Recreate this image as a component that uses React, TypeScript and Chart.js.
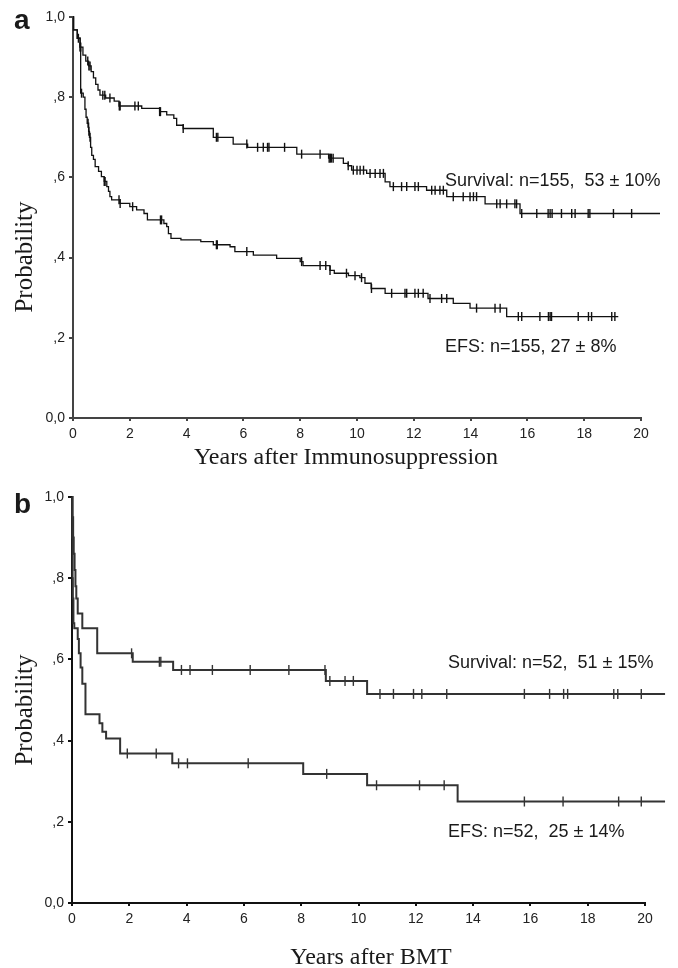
import React, { useEffect, useRef } from "react";
import { Chart, registerables } from "chart.js";

Chart.register(...registerables);

// ---------- shared axis data ----------
const xTickValues = [0, 2, 4, 6, 8, 10, 12, 14, 16, 18, 20];
const yTickValues = [0, 0.2, 0.4, 0.6, 0.8, 1.0];
const yTickLabels = ["0,0", ",2", ",4", ",6", ",8", "1,0"];

// ---------- panel a: after immunosuppression ----------
const survATimes = [0, 0.02, 0.15, 0.25, 0.35, 0.45, 0.55, 0.64, 0.72, 0.8, 0.88, 0.95, 1.15, 1.45, 1.62, 2.42, 3.05, 3.3, 3.55, 3.65, 3.88, 4.94, 5.64, 6.15, 7.88, 9.0, 9.52, 9.69, 9.81, 10.34, 10.99, 11.16, 12.45, 13.16, 14.51, 15.74, 20.67];
const survAValues = [1.0, 0.968, 0.947, 0.925, 0.905, 0.89, 0.878, 0.864, 0.848, 0.832, 0.818, 0.805, 0.798, 0.79, 0.778, 0.772, 0.764, 0.756, 0.747, 0.73, 0.722, 0.7, 0.683, 0.675, 0.658, 0.648, 0.635, 0.629, 0.618, 0.61, 0.589, 0.577, 0.568, 0.552, 0.534, 0.51, 0.51];
const survACensor = [0.19, 0.25, 0.26, 0.27, 0.52, 0.56, 0.6, 1.05, 1.12, 1.3, 1.63, 1.66, 2.18, 2.3, 3.05, 3.08, 3.88, 5.05, 5.1, 6.12, 6.5, 6.7, 6.85, 6.9, 7.45, 8.05, 8.7, 9.02, 9.06, 9.1, 9.16, 9.69, 9.87, 10.0, 10.11, 10.23, 10.46, 10.64, 10.81, 10.93, 11.28, 11.57, 11.75, 12.04, 12.16, 12.63, 12.75, 12.92, 13.04, 13.39, 13.74, 13.98, 14.1, 14.21, 14.92, 15.04, 15.27, 15.56, 15.62, 15.8, 16.33, 16.73, 16.8, 16.87, 17.2, 17.56, 17.68, 18.14, 18.2, 19.03, 19.67];

const efsATimes = [0, 0.02, 0.15, 0.25, 0.27, 0.36, 0.42, 0.46, 0.5, 0.55, 0.58, 0.62, 0.66, 0.72, 0.78, 0.9, 1.0, 1.1, 1.19, 1.25, 1.3, 1.36, 1.65, 2.0, 2.24, 2.5, 2.62, 3.2, 3.3, 3.36, 3.45, 3.8, 4.5, 4.94, 5.53, 5.7, 6.35, 7.17, 8.0, 8.1, 9.05, 9.2, 9.7, 10.1, 10.28, 10.5, 10.99, 12.5, 13.39, 13.98, 15.27, 19.2];
const efsAValues = [1.0, 0.968, 0.947, 0.925, 0.81, 0.8, 0.77, 0.75, 0.735, 0.715, 0.7, 0.675, 0.655, 0.645, 0.627, 0.615, 0.602, 0.59, 0.577, 0.565, 0.552, 0.544, 0.535, 0.527, 0.519, 0.51, 0.494, 0.485, 0.477, 0.46, 0.448, 0.444, 0.44, 0.432, 0.427, 0.415, 0.406, 0.398, 0.39, 0.38, 0.368, 0.361, 0.355, 0.35, 0.336, 0.323, 0.311, 0.298, 0.286, 0.274, 0.253, 0.253];
const efsACensor = [0.3, 0.53, 0.56, 0.6, 1.1, 1.13, 1.62, 1.66, 2.1, 3.08, 3.12, 5.05, 5.08, 6.12, 8.05, 8.7, 8.9, 9.05, 9.63, 9.93, 10.16, 10.51, 11.22, 11.69, 11.75, 12.04, 12.16, 12.33, 12.57, 12.98, 13.16, 14.21, 14.86, 15.04, 15.68, 15.8, 16.44, 16.74, 16.8, 16.85, 17.79, 18.15, 18.26, 18.97, 19.08];

// ---------- panel b: after BMT ----------
const survBTimes = [0, 0.02, 0.04, 0.06, 0.09, 0.12, 0.15, 0.2, 0.36, 0.88, 2.12, 3.53, 8.86, 10.3, 20.7];
const survBValues = [1.0, 0.95, 0.9, 0.86, 0.82, 0.78, 0.75, 0.713, 0.677, 0.615, 0.594, 0.574, 0.547, 0.515, 0.515];
const survBCensor = [2.08, 3.05, 3.1, 3.82, 4.12, 4.9, 6.22, 7.57, 8.83, 9.0, 9.53, 9.82, 10.75, 11.22, 11.92, 12.21, 13.08, 15.79, 16.67, 17.16, 17.3, 18.91, 19.05, 19.87];

const efsBTimes = [0, 0.01, 0.02, 0.03, 0.05, 0.08, 0.2, 0.24, 0.3, 0.36, 0.47, 0.96, 1.06, 1.19, 1.68, 3.5, 8.07, 10.3, 13.46, 20.7];
const efsBValues = [1.0, 0.9, 0.8, 0.75, 0.689, 0.677, 0.65, 0.615, 0.58, 0.54, 0.465, 0.443, 0.422, 0.405, 0.368, 0.344, 0.318, 0.29, 0.25, 0.25];
const efsBCensor = [1.93, 2.94, 3.72, 4.03, 6.15, 8.89, 10.63, 12.13, 12.99, 15.79, 17.14, 19.08, 19.87];

// ---------- texts ----------
const panelALetter = "a";
const panelBLetter = "b";
const yTitle = "Probability";
const xTitleA = "Years after Immunosuppression";
const xTitleB = "Years after BMT";
const survALabel = "Survival: n=155,  53 \u00B1 10%";
const efsALabel = "EFS: n=155, 27 \u00B1 8%";
const survBLabel = "Survival: n=52,  51 \u00B1 15%";
const efsBLabel = "EFS: n=52,  25 \u00B1 14%";

const SANS = '"Liberation Sans", Arial, Helvetica, sans-serif';
const SERIF = '"Liberation Serif", "Times New Roman", Times, serif';

function stepPoints(times: number[], values: number[]) {
  return times.map((t, i) => ({ x: t, y: values[i] }));
}
function censorPoints(times: number[], values: number[], censor: number[]) {
  return censor.map((c) => {
    let v = values[0];
    for (let i = 0; i < times.length; i++) {
      if (times[i] <= c) v = values[i];
    }
    return { x: c, y: v };
  });
}

type TextItem = {
  text: string;
  x: number;
  y: number;
  font: string;
  align?: CanvasTextAlign;
  rotate?: boolean;
};

function makeConfig(opts: {
  surv: { x: number; y: number }[];
  survC: { x: number; y: number }[];
  efs: { x: number; y: number }[];
  efsC: { x: number; y: number }[];
  lineColor: string;
  lineWidth: number;
  axisColor: string;
  yWidth: number;
  xHeight: number;
  padTop: number;
  padRight: number;
  markRadius: number;
  texts: TextItem[];
}): any {
  const textPlugin = {
    id: "panelTexts",
    afterDraw(chart: any) {
      const ctx = chart.ctx;
      ctx.save();
      ctx.fillStyle = "#1a1a1a";
      ctx.textBaseline = "alphabetic";
      for (const t of opts.texts) {
        ctx.font = t.font;
        if (t.rotate) {
          ctx.save();
          ctx.translate(t.x, t.y);
          ctx.rotate(-Math.PI / 2);
          ctx.textAlign = "center";
          ctx.textBaseline = "middle";
          ctx.fillText(t.text, 0, 0);
          ctx.restore();
        } else {
          ctx.textAlign = t.align || "left";
          ctx.fillText(t.text, t.x, t.y);
        }
      }
      ctx.restore();
    },
  };

  const lineDs = (data: any) => ({
    type: "line",
    data,
    stepped: true,
    borderColor: opts.lineColor,
    borderWidth: opts.lineWidth,
    pointRadius: 0,
    fill: false,
    clip: false,
  });
  const markDs = (data: any) => ({
    type: "scatter",
    data,
    showLine: false,
    pointStyle: "line",
    pointRotation: 90,
    pointRadius: opts.markRadius,
    pointBorderWidth: 1.4,
    pointBorderColor: opts.lineColor,
    pointBackgroundColor: opts.lineColor,
    clip: false,
  });

  return {
    type: "line",
    data: {
      datasets: [lineDs(opts.surv), lineDs(opts.efs), markDs(opts.survC), markDs(opts.efsC)],
    },
    options: {
      responsive: false,
      maintainAspectRatio: false,
      animation: false,
      devicePixelRatio: 1,
      events: [],
      layout: { padding: { top: opts.padTop, right: opts.padRight, left: 0, bottom: 0 } },
      plugins: { legend: { display: false }, tooltip: { enabled: false }, title: { display: false } },
      scales: {
        x: {
          type: "linear",
          min: 0,
          max: 20,
          afterFit: (s: any) => {
            s.height = opts.xHeight;
          },
          afterBuildTicks: (s: any) => {
            s.ticks = xTickValues.map((v) => ({ value: v }));
          },
          ticks: {
            autoSkip: false,
            maxRotation: 0,
            padding: 5,
            color: "#222",
            font: { family: SANS, size: 14 },
            callback: (v: any) => String(v),
          },
          grid: {
            display: true,
            drawOnChartArea: false,
            drawTicks: true,
            tickLength: 3,
            color: opts.axisColor,
            lineWidth: 2,
          },
          border: { display: true, color: opts.axisColor, width: 2 },
        },
        y: {
          type: "linear",
          min: 0,
          max: 1,
          afterFit: (s: any) => {
            s.width = opts.yWidth;
          },
          afterBuildTicks: (s: any) => {
            s.ticks = yTickValues.map((v) => ({ value: v }));
          },
          ticks: {
            autoSkip: false,
            padding: 4,
            color: "#222",
            font: { family: SANS, size: 14 },
            callback: (_v: any, i: number) => yTickLabels[i],
          },
          grid: {
            display: true,
            drawOnChartArea: false,
            drawTicks: true,
            tickLength: 4,
            color: opts.axisColor,
            lineWidth: 2,
          },
          border: { display: true, color: opts.axisColor, width: 2 },
        },
      },
    },
    plugins: [textPlugin],
  };
}

export default function App() {
  const refA = useRef<HTMLCanvasElement>(null);
  const refB = useRef<HTMLCanvasElement>(null);

  useEffect(() => {
    const cfgA = makeConfig({
      surv: stepPoints(survATimes, survAValues),
      survC: censorPoints(survATimes, survAValues, survACensor),
      efs: stepPoints(efsATimes, efsAValues),
      efsC: censorPoints(efsATimes, efsAValues, efsACensor),
      lineColor: "#111",
      lineWidth: 1.3,
      axisColor: "#444",
      yWidth: 73,
      xHeight: 62,
      padTop: 17,
      padRight: 37,
      markRadius: 4.5,
      texts: [
        { text: panelALetter, x: 14, y: 29, font: `bold 28px ${SANS}` },
        { text: yTitle, x: 25, y: 257, font: `25px ${SERIF}`, rotate: true },
        { text: xTitleA, x: 346, y: 464, font: `24px ${SERIF}`, align: "center" },
        { text: survALabel, x: 445, y: 186, font: `18px ${SANS}` },
        { text: efsALabel, x: 445, y: 352, font: `18px ${SANS}` },
      ],
    });
    const cfgB = makeConfig({
      surv: stepPoints(survBTimes, survBValues),
      survC: censorPoints(survBTimes, survBValues, survBCensor),
      efs: stepPoints(efsBTimes, efsBValues),
      efsC: censorPoints(efsBTimes, efsBValues, efsBCensor),
      lineColor: "#333",
      lineWidth: 2,
      axisColor: "#111",
      yWidth: 72,
      xHeight: 65,
      padTop: 17,
      padRight: 33,
      markRadius: 5,
      texts: [
        { text: panelBLetter, x: 14, y: 33, font: `bold 28px ${SANS}` },
        { text: yTitle, x: 25, y: 230, font: `25px ${SERIF}`, rotate: true },
        { text: xTitleB, x: 371, y: 484, font: `24px ${SERIF}`, align: "center" },
        { text: survBLabel, x: 448, y: 188, font: `18px ${SANS}` },
        { text: efsBLabel, x: 448, y: 357, font: `18px ${SANS}` },
      ],
    });
    const a = new Chart(refA.current as HTMLCanvasElement, cfgA);
    const b = new Chart(refB.current as HTMLCanvasElement, cfgB);
    return () => {
      a.destroy();
      b.destroy();
    };
  }, []);

  return (
    <div style={{ position: "fixed", left: 0, top: 0, width: 678, height: 968, background: "#fff" }}>
      <canvas ref={refA} width={678} height={480} style={{ position: "absolute", left: 0, top: 0, width: 678, height: 480 }} />
      <canvas ref={refB} width={678} height={488} style={{ position: "absolute", left: 0, top: 480, width: 678, height: 488 }} />
    </div>
  );
}
